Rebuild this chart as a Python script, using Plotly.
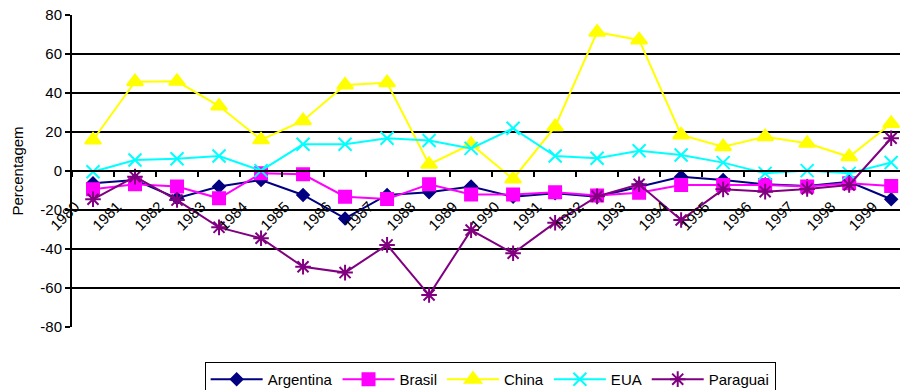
import plotly.graph_objects as go

years = [str(y) for y in range(1980, 2000)]

argentina = [-6.3, -4.6, -14.0, -8.0, -4.6, -12.3, -24.3, -12.3, -10.9, -8.0,
             -13.2, -11.4, -13.2, -8.0, -2.9, -4.6, -6.8, -7.7, -5.5, -14.5]
brasil = [-9.4, -6.8, -8.0, -14.0, -1.2, -1.7, -13.2, -14.4, -6.8, -12.0,
          -12.0, -10.9, -12.6, -11.1, -7.2, -7.2, -7.2, -8.0, -6.3, -7.7]
china = [15.9, 45.8, 46.0, 33.3, 16.0, 25.8, 44.1, 45.3, 3.4, 13.7,
         -4.1, 22.7, 71.2, 67.2, 18.5, 12.5, 17.6, 14.2, 7.3, 24.4]
eua = [-0.4, 5.6, 6.3, 7.7, 0.2, 13.7, 13.7, 16.8, 15.6, 11.6,
       21.9, 7.7, 6.5, 10.4, 8.2, 4.3, -1.2, 0.2, -1.2, 4.4]
paraguai = [-14.5, -2.9, -14.9, -28.9, -34.5, -49.1, -52.1, -37.9, -63.6, -30.3,
            -42.2, -26.5, -13.0, -6.8, -25.1, -9.4, -10.6, -9.2, -7.2, 16.8]

y_ticks = [80, 60, 40, 20, 0, -20, -40, -60, -80]
y_tick_text = ["80", "60", "40", "20", "0", "-20", "-40", "-60", "-80"]

series = [
    ("Argentina", argentina, "#000080", "diamond", 9),
    ("Brasil", brasil, "#FF00FF", "square", 12),
    ("China", china, "#FFFF00", "triangle-up", 14),
    ("EUA", eua, "#00FFFF", "x-thin-open", 13),
    ("Paraguai", paraguai, "#800080", "asterisk-open", 13),
]

fig = go.Figure()
for name, vals, color, sym, size in series:
    fig.add_trace(go.Scatter(
        x=years, y=vals, name=name, mode="lines+markers",
        line=dict(color=color, width=2),
        marker=dict(symbol=sym, size=size, color=color,
                    line=dict(color=color, width=2)),
    ))

font = "Liberation Sans, Arial, sans-serif"
fig.update_layout(
    width=900, height=390,
    margin=dict(l=72, r=0, t=15, b=63, autoexpand=False),
    paper_bgcolor="white", plot_bgcolor="white",
    font=dict(family=font, size=15, color="black"),
    showlegend=True,
    legend=dict(orientation="h", x=0.505, xanchor="center",
                yref="container", y=0.072, yanchor="top",
                bordercolor="black", borderwidth=1, bgcolor="white",
                font=dict(size=15), itemwidth=52, tracegroupgap=0),
    xaxis=dict(
        type="category", range=[-0.5, 19.21],
        anchor="free", position=0.5,
        showline=True, linecolor="black", linewidth=2,
        ticks="outside", ticklen=5, tickwidth=2, tickcolor="black",
        tickson="boundaries", tickangle=-45,
        ticklabelstandoff=20, ticklabelshift=-18,
        showgrid=False, zeroline=False,
        tickfont=dict(size=15),
    ),
    yaxis=dict(
        range=[-80, 80], tickvals=y_ticks, ticktext=y_tick_text,
        showline=True, linecolor="black", linewidth=2,
        ticks="outside", ticklen=5, tickwidth=2, tickcolor="black",
        showgrid=True, gridcolor="black", gridwidth=2,
        zeroline=False,
        title=dict(text="Percentagem", font=dict(size=15), standoff=13),
        tickfont=dict(size=15),
    ),
)

fig.write_html("out.html")
